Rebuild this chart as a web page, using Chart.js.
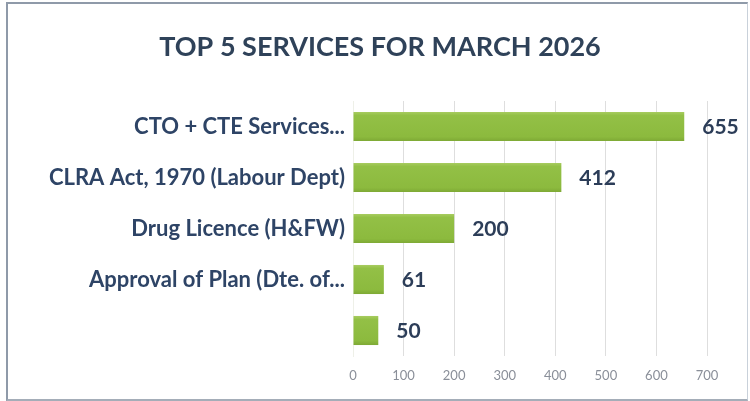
<!DOCTYPE html>
<html>
<head>
<meta charset="utf-8">
<script src="https://cdn.jsdelivr.net/npm/chart.js@4.4.1/dist/chart.umd.min.js"></script>
<style>
    html, body { margin: 0; padding: 0; background: #fff; }
    .wrap { position: relative; width: 750px; height: 401px; overflow: hidden; }
    .frame {
        position: absolute; left: 6px; top: 2px; width: 739px; height: 395px;
        border-left: 2px solid #8f9aa9; border-top: 2px solid #8f9aa9;
        border-right: 1px solid #c9d1da; border-bottom: 2px solid #a4adb8;
        pointer-events: none;
    }
    #servicesChart { position: absolute; left: 0; top: 0; }
</style>
</head>
<body>
<div class="wrap">
    <canvas id="servicesChart" width="750" height="401"></canvas>
    <div class="frame"></div>
</div>
<script>
// Топ-5 услуг за месяц
const chartTitle = 'TOP 5 SERVICES FOR MARCH 2026';
const services = ['CTO + CTE Services...', 'CLRA Act, 1970 (Labour Dept)', 'Drug Licence (H&FW)', 'Approval of Plan (Dte. of...', ''];
const counts = [655, 412, 200, 61, 50];
const xTicks = [0, 100, 200, 300, 400, 500, 600, 700];

// Заголовок по центру рамки (не по области графика)
const frameTitle = {
    id: 'frameTitle',
    afterDraw(chart) {
        const ctx = chart.ctx;
        ctx.save();
        ctx.font = 'bold 27px Lato';
        ctx.fillStyle = '#2f4259';
        ctx.textAlign = 'center';
        ctx.textBaseline = 'middle';
        ctx.fillText(chartTitle, 380, 47);
        ctx.restore();
    }
};

// Подписи значений справа от полос
const valueLabels = {
    id: 'valueLabels',
    afterDatasetsDraw(chart) {
        const ctx = chart.ctx;
        const meta = chart.getDatasetMeta(0);
        ctx.save();
        ctx.font = 'bold 21px Lato';
        ctx.fillStyle = '#2c3d58';
        ctx.textAlign = 'left';
        ctx.textBaseline = 'middle';
        meta.data.forEach((bar, i) => {
            ctx.fillText(String(counts[i]), bar.x + 18, bar.y + 1);
        });
        ctx.restore();
    }
};

// Зелёный градиент по высоте полосы
function barFill(context) {
    const chart = context.chart;
    const yScale = chart.scales && chart.scales.y;
    if (!chart.chartArea || !yScale) return '#8dba3f';
    const cy = yScale.getPixelForValue(context.dataIndex);
    const h = yScale.height / services.length * 0.57;
    if (!isFinite(cy) || !isFinite(h)) return '#8dba3f';
    const g = chart.ctx.createLinearGradient(0, cy - h / 2, 0, cy + h / 2);
    g.addColorStop(0, '#a8cc60');
    g.addColorStop(0.12, '#93c046');
    g.addColorStop(0.85, '#8cba3e');
    g.addColorStop(1, '#7ea935');
    return g;
}

const ctx = document.getElementById('servicesChart').getContext('2d');
const servicesChart = new Chart(ctx, {
    type: 'bar',
    data: {
        labels: services,
        datasets: [{
            data: counts,
            backgroundColor: barFill,
            borderWidth: 0,
            barPercentage: 0.57,
            categoryPercentage: 1
        }]
    },
    options: {
        indexAxis: 'y',
        responsive: false,
        animation: false,
        layout: { padding: { left: 0, right: 43, top: 101, bottom: 0 } },
        plugins: {
            legend: { display: false },
            tooltip: { enabled: false },
            title: { display: false }
        },
        scales: {
            x: {
                min: 0,
                max: 700,
                afterBuildTicks(scale) {
                    scale.ticks = xTicks.map(v => ({ value: v }));
                },
                afterFit(scale) { scale.height = 45; },
                grid: { color: '#dedede', drawTicks: false },
                border: { display: false },
                ticks: {
                    color: '#8a8f99',
                    font: { family: 'Lato', size: 13 },
                    padding: 12
                }
            },
            y: {
                afterFit(scale) { scale.width = 353; },
                grid: { display: false, drawTicks: false },
                border: { color: '#eef0e8' },
                ticks: {
                    color: '#2e4466',
                    font: { family: 'Lato', size: 22, weight: 'bold' },
                    padding: 8
                }
            }
        }
    },
    plugins: [valueLabels, frameTitle]
});
</script>
</body>
</html>
